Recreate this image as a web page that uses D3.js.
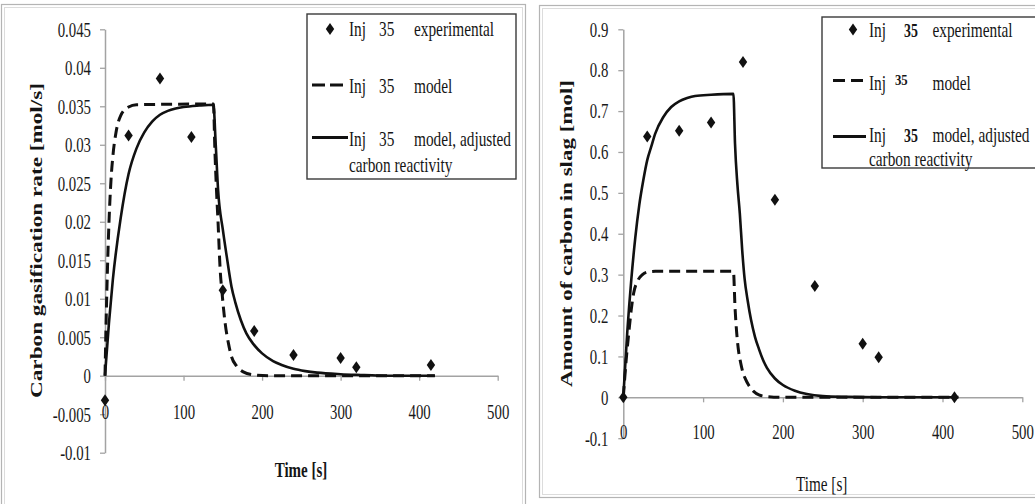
<!DOCTYPE html>
<html><head><meta charset="utf-8">
<script src="https://cdn.jsdelivr.net/npm/d3@7"></script>
<style>
body{margin:0;background:#fff}
svg{display:block}
</style></head><body>
<svg id="chart" width="1035" height="504"></svg>
<script>
// ---- Experimental points (both panels share the sampling times) ----
const expTime = [0, 30, 70, 110, 150, 190, 240, 300, 320, 415];
const gasRateExp = [-0.0032, 0.0312, 0.0386, 0.031, 0.0111, 0.0058, 0.0027, 0.0023, 0.0011, 0.0014];
const slagCarbonExp = [0, 0.638, 0.652, 0.672, 0.82, 0.483, 0.272, 0.131, 0.098, 0];

// ---- Left panel: carbon gasification rate, model curves ----
const gasModelTime = [0, 2, 4, 6, 8, 10, 14, 20, 30, 40, 138, 140, 142, 144, 146.5, 149, 153, 157, 161, 168, 176, 190, 210, 420];
const gasModel = [0, 0.0095, 0.0168, 0.0222, 0.026, 0.0285, 0.0316, 0.0338, 0.0349, 0.0352, 0.0353, 0.029, 0.024, 0.0198, 0.014, 0.0108, 0.0068, 0.0043, 0.0025, 0.0012, 0.0005, 0.0001, 0, 0];
const gasAdjTime = [0, 5, 10, 20, 30, 40, 50, 60, 70, 80, 90, 100, 120, 138, 141, 144, 150, 155, 161, 166, 173, 180, 189, 200, 214, 225, 240, 255, 270, 300, 330, 360, 420];
const gasAdj = [0, 0.0068, 0.0125, 0.0205, 0.0262, 0.0295, 0.0316, 0.033, 0.0339, 0.0344, 0.0347, 0.0349, 0.0351, 0.0352, 0.030, 0.0241, 0.019, 0.0155, 0.0116, 0.0095, 0.0072, 0.0055, 0.0041, 0.0029, 0.0019, 0.0014, 0.0009, 0.0006, 0.0004, 0.0002, 0.0001, 0, 0];

// ---- Right panel: amount of carbon in slag, model curves ----
const slagModelTime = [0, 4, 7, 10, 13, 18, 24, 30, 40, 138, 140, 142, 144, 147, 150, 153, 157, 163, 170, 180, 200, 420];
const slagModel = [0, 0.1, 0.16, 0.215, 0.255, 0.285, 0.3, 0.306, 0.308, 0.308, 0.22, 0.16, 0.12, 0.085, 0.06, 0.045, 0.03, 0.015, 0.006, 0.002, 0, 0];
const slagAdjTime = [0, 5, 10, 15, 20, 25, 30, 35, 40, 50, 60, 70, 80, 90, 110, 138, 140, 143, 146, 149, 152, 156, 160, 165, 170, 175, 180, 190, 200, 215, 230, 250, 280, 320, 415];
const slagAdj = [0, 0.16, 0.287, 0.39, 0.47, 0.53, 0.58, 0.613, 0.645, 0.685, 0.71, 0.724, 0.732, 0.737, 0.74, 0.742, 0.62, 0.52, 0.45, 0.36, 0.29, 0.235, 0.19, 0.148, 0.118, 0.092, 0.072, 0.046, 0.03, 0.016, 0.008, 0.003, 0.001, 0, 0];

// ---- Axis ticks and labels ----
const timeTicks = [0, 100, 200, 300, 400, 500];
const timeLabels = ["0", "100", "200", "300", "400", "500"];
const gasTicks = [0.045, 0.04, 0.035, 0.03, 0.025, 0.02, 0.015, 0.01, 0.005, 0, -0.005, -0.01];
const gasLabels = ["0.045", "0.04", "0.035", "0.03", "0.025", "0.02", "0.015", "0.01", "0.005", "0", "-0.005", "-0.01"];
const slagTicks = [0.9, 0.8, 0.7, 0.6, 0.5, 0.4, 0.3, 0.2, 0.1, 0, -0.1];
const slagLabels = ["0.9", "0.8", "0.7", "0.6", "0.5", "0.4", "0.3", "0.2", "0.1", "0", "-0.1"];

const SERIF = "'Liberation Serif', 'Times New Roman', serif";
const svg = d3.select('#chart');
svg.append('rect').attr('width', 1035).attr('height', 504).attr('fill', '#fff');

const AXIS = '#a3a3a3';
const SX = 0.74; // narrow serif glyphs

// panel frames
function frame(x, y, w, h) {
  svg.append('rect').attr('x', x).attr('y', y).attr('width', w).attr('height', h)
    .attr('fill', 'none').attr('stroke', '#b4b4b4').attr('stroke-width', 1.2);
  svg.append('rect').attr('x', x + 3).attr('y', y + 3).attr('width', w - 6).attr('height', h - 6)
    .attr('fill', 'none').attr('stroke', '#dcdcdc').attr('stroke-width', 1);
}
frame(1.5, 4.5, 524, 520);
frame(539.5, 5.5, 520, 492);

function stretchedText(g, x, y, str, size, sx, opts = {}) {
  return g.append('text')
    .attr('transform', `translate(${x},${y}) scale(${sx},1)`)
    .style('font-family', SERIF)
    .attr('fill', '#151515')
    .attr('font-size', size)
    .attr('font-weight', opts.bold ? 'bold' : null)
    .attr('text-anchor', opts.anchor || 'start')
    .text(str);
}

const diamond = 'M0,-6L4.2,0L0,6L-4.2,0Z';

function drawPanel(cfg) {
  const g = svg.append('g');
  const { x, y } = cfg;

  // y axis
  const gy = g.append('g').attr('transform', `translate(${x(0)},0)`)
    .call(d3.axisLeft(y).tickValues(cfg.yTicks).tickSize(5).tickSizeOuter(0)
      .tickFormat((d, i) => cfg.yLabels[i]));
  gy.attr('font-family', null).attr('font-size', null);
  gy.select('.domain').attr('stroke', AXIS).attr('stroke-width', 1.5);
  gy.selectAll('.tick line').attr('stroke', AXIS).attr('stroke-width', 1.3);
  gy.selectAll('.tick text')
    .style('font-family', SERIF)
    .attr('x', 0).attr('dy', '0.34em').attr('fill', '#1a1a1a')
    .attr('font-size', 20).attr('text-anchor', 'end')
    .attr('transform', `translate(${-cfg.yLabelGap},0) scale(${SX},1)`);

  // x axis along zero
  const gx = g.append('g').attr('transform', `translate(0,${y(0)})`)
    .call(d3.axisBottom(x).tickValues(timeTicks).tickSize(5).tickSizeOuter(0)
      .tickFormat((d, i) => timeLabels[i]));
  gx.attr('font-family', null).attr('font-size', null);
  gx.select('.domain').attr('stroke', AXIS).attr('stroke-width', 1.5);
  gx.selectAll('.tick line').attr('stroke', AXIS).attr('stroke-width', 1.3);
  gx.selectAll('.tick text')
    .style('font-family', SERIF)
    .attr('y', 0).attr('dy', null).attr('fill', '#1a1a1a')
    .attr('font-size', 20).attr('text-anchor', 'middle')
    .attr('transform', `translate(0,${cfg.xLabelGap}) scale(${SX},1)`);

  // axis titles
  stretchedText(g, cfg.xTitle[0], cfg.xTitle[1], 'Time [s]', 20, cfg.xTitleSX,
    { bold: cfg.xTitleBold, anchor: 'middle' });
  g.append('text')
    .attr('transform', `translate(${cfg.yTitle[0]},${cfg.yTitle[1]}) rotate(-90)`)
    .style('font-family', SERIF).attr('fill', '#151515')
    .attr('font-size', 17).attr('font-weight', 'bold').attr('text-anchor', 'middle')
    .attr('dy', '0.35em')
    .attr('textLength', cfg.yTitle[2]).attr('lengthAdjust', 'spacingAndGlyphs')
    .text(cfg.yTitleText);

  // model curves
  const line = d3.line().x(d => x(d[0])).y(d => y(d[1])).curve(d3.curveMonotoneX);
  g.append('path').datum(d3.zip(cfg.modelTime, cfg.model))
    .attr('d', line).attr('fill', 'none').attr('stroke', '#111')
    .attr('stroke-width', 3).attr('stroke-dasharray', '11,6');
  g.append('path').datum(d3.zip(cfg.adjTime, cfg.adj))
    .attr('d', line).attr('fill', 'none').attr('stroke', '#111')
    .attr('stroke-width', 2.6).attr('stroke-linejoin', 'round');

  // experimental points
  g.selectAll('path.pt').data(d3.zip(expTime, cfg.exp)).join('path')
    .attr('class', 'pt').attr('d', diamond).attr('fill', '#111')
    .attr('transform', d => `translate(${x(d[0])},${y(d[1])})`);

  // legend
  const L = cfg.legend;
  const lg = g.append('g');
  lg.append('rect').attr('x', L.box[0]).attr('y', L.box[1]).attr('width', L.box[2]).attr('height', L.box[3])
    .attr('fill', '#fff').attr('stroke', '#3a3a3a').attr('stroke-width', 1.4);
  lg.append('path').attr('d', diamond).attr('fill', '#111')
    .attr('transform', `translate(${L.diamond[0]},${L.diamond[1]})`);
  lg.append('line').attr('x1', L.sym[0]).attr('x2', L.sym[1]).attr('y1', L.dashY).attr('y2', L.dashY)
    .attr('stroke', '#111').attr('stroke-width', 3.2).attr('stroke-dasharray', L.dashPattern);
  lg.append('line').attr('x1', L.sym[0]).attr('x2', L.sym[2]).attr('y1', L.solidY).attr('y2', L.solidY)
    .attr('stroke', '#111').attr('stroke-width', 3);

  const rows = [
    { y: L.rows[0], word: 'experimental', num: L.numX[0], numY: 0, small: false },
    { y: L.rows[1], word: 'model', num: L.numX[1], numY: L.row2Raise, small: L.row2Small },
    { y: L.rows[2], word: 'model, adjusted', num: L.numX[2], numY: 0, small: false }
  ];
  rows.forEach(r => {
    stretchedText(lg, L.injX, r.y, 'Inj', 21, 0.73);
    stretchedText(lg, r.num, r.y - r.numY, '35', r.small ? 15 : (L.numBold ? 19 : 21), r.small ? 0.85 : 0.73,
      { bold: L.numBold });
    stretchedText(lg, L.wordX, r.y, r.word, 21, 0.73);
  });
  stretchedText(lg, L.injX, L.rows[3], 'carbon reactivity', 21, 0.73);
}

drawPanel({
  x: d3.scaleLinear([0, 500], [105, 497.7]),
  y: d3.scaleLinear([-0.01, 0.045], [452.7, 29.3]),
  yTicks: gasTicks, yLabels: gasLabels, yLabelGap: 14, xLabelGap: 43,
  xTitle: [301, 477], xTitleSX: 0.75, xTitleBold: true,
  yTitle: [36, 240.5, 315], yTitleText: 'Carbon gasification rate [mol/s]',
  modelTime: gasModelTime, model: gasModel, adjTime: gasAdjTime, adj: gasAdj, exp: gasRateExp,
  legend: {
    box: [307, 14, 209, 165], diamond: [330, 29], sym: [312, 343, 348],
    dashY: 85, solidY: 137.5, dashPattern: '13,5',
    rows: [36, 92.5, 146, 171.5], injX: 349, numX: [379, 379, 379], wordX: 414,
    numBold: false, row2Raise: 0, row2Small: false
  }
});

drawPanel({
  x: d3.scaleLinear([0, 500], [623.3, 1022.3]),
  y: d3.scaleLinear([-0.1, 0.9], [438.2, 29.3]),
  yTicks: slagTicks, yLabels: slagLabels, yLabelGap: 15, xLabelGap: 41.5,
  xTitle: [821.7, 491], xTitleSX: 0.76, xTitleBold: false,
  yTitle: [566, 233.5, 307], yTitleText: 'Amount of carbon in slag [mol]',
  modelTime: slagModelTime, model: slagModel, adjTime: slagAdjTime, adj: slagAdj, exp: slagCarbonExp,
  legend: {
    box: [822, 17, 240, 151], diamond: [853, 29.5], sym: [833, 863, 866],
    dashY: 80.5, solidY: 136.5, dashPattern: '12,6',
    rows: [37, 90, 142, 166], injX: 869, numX: [904, 895, 904], wordX: 932.5,
    numBold: true, row2Raise: 5, row2Small: true
  }
});
</script>
</body></html>
